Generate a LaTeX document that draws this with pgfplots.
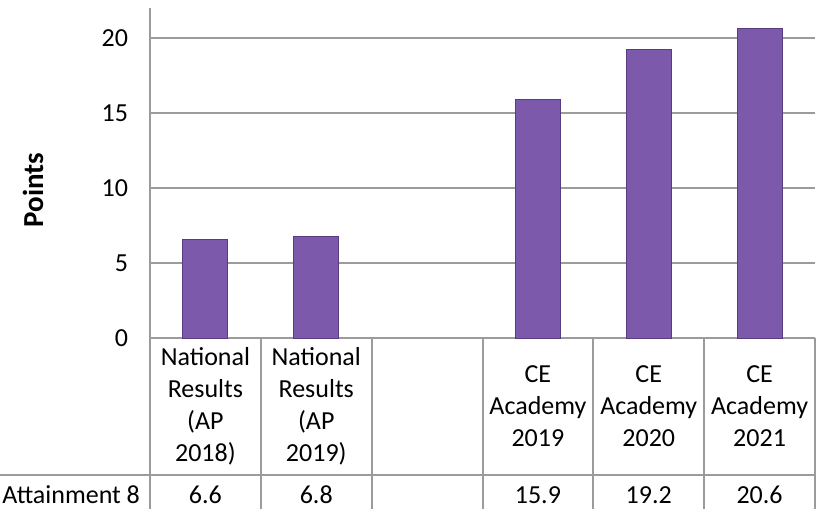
\documentclass[border=0pt]{standalone}
\usepackage{pgfplots}
\pgfplotsset{compat=1.18}
\usepackage{pgfplotstable}
\usepackage{fontspec}
\setmainfont{Carlito}
\definecolor{barfill}{RGB}{124,89,170}
\definecolor{barline}{RGB}{88,60,130}
\definecolor{gridc}{RGB}{155,155,155}
\pgfplotstableread{
x val
0 6.6
1 6.8
3 15.9
4 19.2
5 20.6
}\data
\begin{document}
\begin{tikzpicture}
\useasboundingbox (0,0) rectangle (414pt,254.5pt);
\begin{axis}[
  at={(75pt,85.5pt)}, anchor=south west,
  width=332.5pt, height=165pt, scale only axis,
  xmin=-0.5, xmax=5.5, ymin=0, ymax=22,
  clip=false,
  axis lines=left,
  axis line style={draw=gridc, line width=1pt, -},
  ytick={0,5,10,15,20},
  ymajorgrids,
  grid style={draw=gridc, line width=1pt},
  major tick length=0pt,
  /pgf/number format/assume math mode=true,
  yticklabel style={font=\fontsize{13}{16}\selectfont, xshift=-7.5pt},
  xtick={0,...,5},
  xticklabels={{National\\Results\\(AP\\2018)},{National\\Results\\(AP\\2019)},{},{CE\\Academy\\2019},{CE\\Academy\\2020},{CE\\Academy\\2021}},
  xticklabel style={align=center, anchor=center, yshift=-34.25pt, font=\fontsize{13}{16}\selectfont},
]
\addplot[ybar, bar width=22.5pt, fill=barfill, draw=barline, line width=0.5pt] table[x=x,y=val]{\data};
\addplot[draw=none, mark=none, nodes near coords={\pgfmathprintnumber[fixed,precision=1,fixed zerofill,assume math mode=true]{\pgfplotspointmeta}},
  point meta=explicit,
  every node near coord/.style={anchor=base, yshift=-82.5pt, font=\fontsize{13}{16}\selectfont, text=black}]
  table[x=x, y expr=0, meta=val]{\data};
\end{axis}
\draw[gridc, line width=1pt] (75pt,0) -- (75pt,250.5pt);
\foreach \k in {1,...,6}{
  \draw[gridc, line width=1pt] ({75pt+\k*55.41667pt},0) -- ({75pt+\k*55.41667pt},85.5pt);
}
\draw[gridc, line width=1pt] (0,17pt) -- (407.5pt,17pt);
\node[anchor=base west, font=\fontsize{13}{16}\selectfont, inner sep=0pt] at (1pt,3pt) {Attainment 8};
\node[rotate=90, font=\bfseries\fontsize{14.5}{17}\selectfont] at (16.5pt,159.5pt) {Points};
\end{tikzpicture}
\end{document}
